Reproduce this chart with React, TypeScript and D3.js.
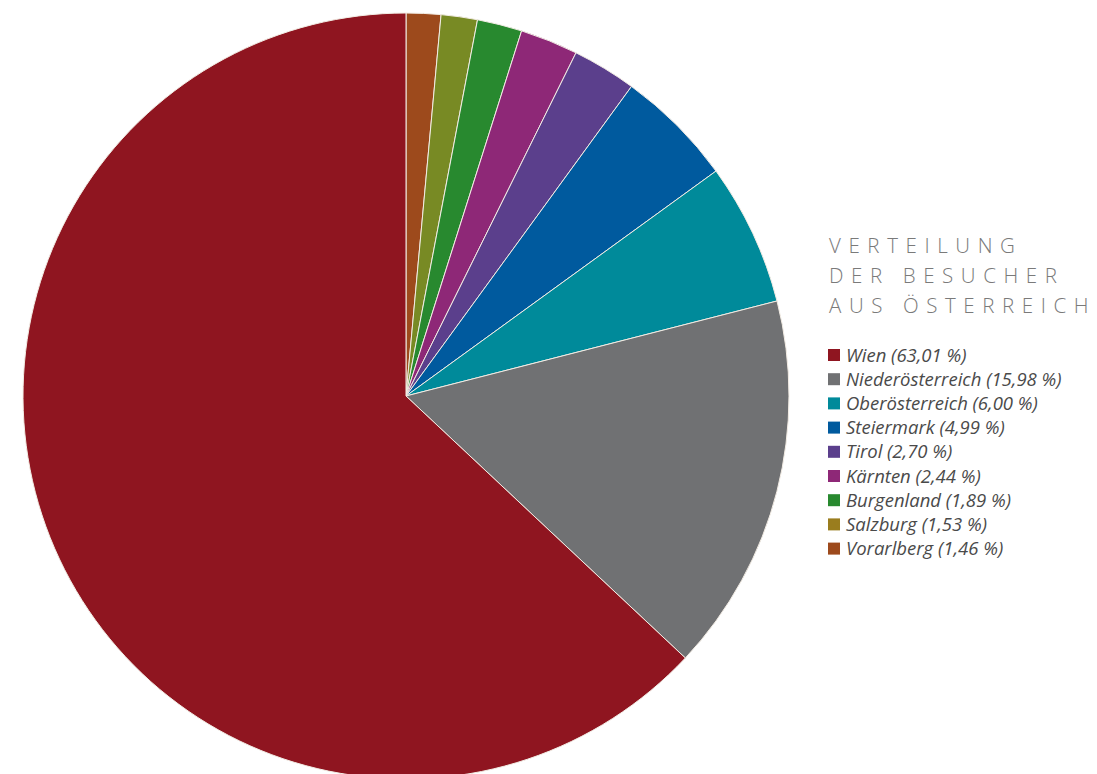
import React from "react";
import * as d3 from "d3";

const regions = ["Wien", "Niederösterreich", "Oberösterreich", "Steiermark", "Tirol", "Kärnten", "Burgenland", "Salzburg", "Vorarlberg"];
const shares = [63.01, 15.98, 6.0, 4.99, 2.7, 2.44, 1.89, 1.53, 1.46];
const sliceColors = ["#8f1520", "#707173", "#008a9a", "#005a9e", "#5b3f8c", "#8e2877", "#28892f", "#788a24", "#9d4a1c"];
const legendColors = ["#8f1520", "#707173", "#008a9a", "#005a9e", "#5b3f8c", "#8e2877", "#28892f", "#9a7d1e", "#9d4a1c"];
const titleLines = ["VERTEILUNG", "DER BESUCHER", "AUS ÖSTERREICH"];

export default function App() {
  const W = 1097, H = 774;
  const cx = 406, cy = 396, r = 383;
  const order = regions.map((_, i) => i).reverse();
  const pie = d3.pie<number>().sort(null).value((i) => shares[i]);
  const arcs = pie(order);
  const arc = d3.arc<d3.PieArcDatum<number>>().innerRadius(0).outerRadius(r);
  const fmt = (v: number) => v.toFixed(2).replace(".", ",");
  return (
    <svg width={W} height={H} style={{ position: "absolute", left: 0, top: 0, background: "#fff" }}>
      <g transform={`translate(${cx},${cy})`}>
        {arcs.map((a) => (
          <path key={a.data} d={arc(a) || ""} fill={sliceColors[a.data]} stroke="#f2ece4" strokeWidth={1} />
        ))}
      </g>
      <g fontFamily="'Open Sans', sans-serif" fill="#7a7a7a">
        {titleLines.map((t, i) => (
          <text key={t} x={829} y={253 + i * 30} fontSize={20.5} fontWeight={300} letterSpacing={7.6}>
            {t}
          </text>
        ))}
      </g>
      <g fontFamily="'Open Sans', sans-serif">
        {regions.map((name, i) => (
          <g key={name} transform={`translate(828, ${349 + i * 24.2})`}>
            <rect x={0} y={0} width={12} height={12} fill={legendColors[i]} />
            <text x={18} y={12.5} fontSize={18.5} fontStyle="italic" fill="#4a4a4a">
              {`${name} (${fmt(shares[i])} %)`}
            </text>
          </g>
        ))}
      </g>
    </svg>
  );
}
